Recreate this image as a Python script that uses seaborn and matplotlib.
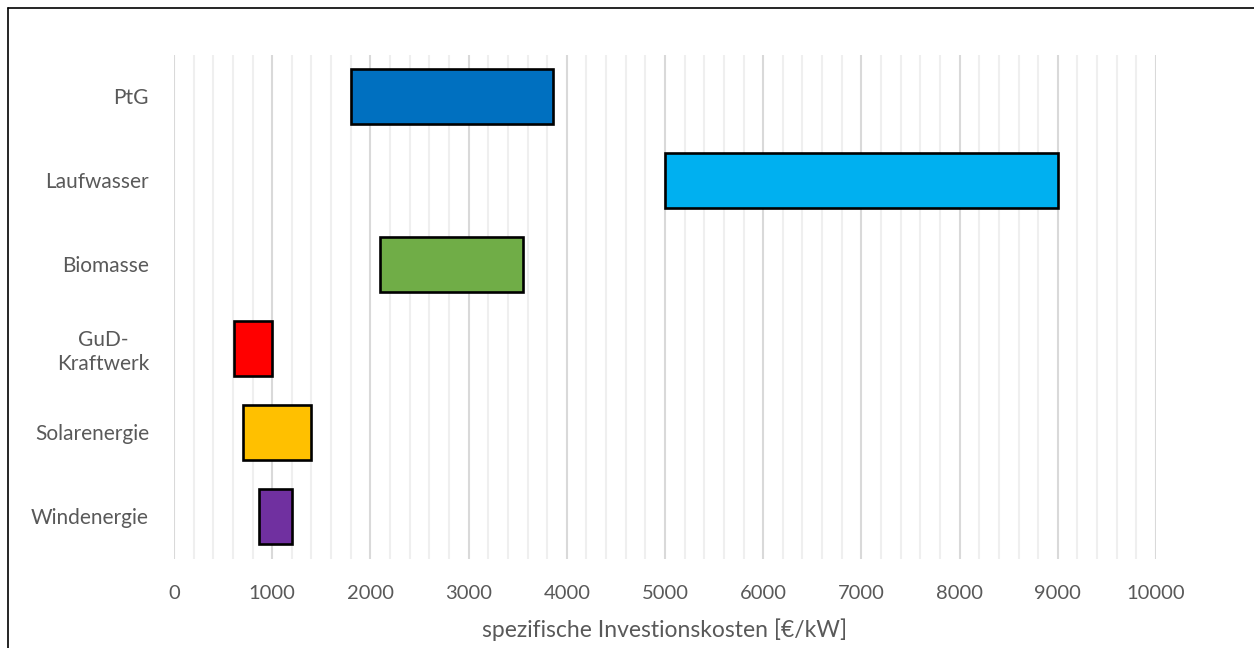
import matplotlib
matplotlib.use("Agg")
import matplotlib.pyplot as plt
from matplotlib.ticker import MultipleLocator
from matplotlib.lines import Line2D
import pandas as pd
import seaborn as sns

# data
categories = ["PtG", "Laufwasser", "Biomasse", "GuD-\nKraftwerk", "Solarenergie", "Windenergie"]
cost_min = [1800, 5000, 2100, 610, 700, 870]
cost_max = [3860, 9000, 3550, 1000, 1400, 1200]
colors = ["#0070C0", "#00B0F0", "#70AD47", "#FF0000", "#FFC000", "#7030A0"]
x_ticks = list(range(0, 10001, 1000))

df = pd.DataFrame({"Technologie": categories, "min": cost_min, "max": cost_max})
df["span"] = df["max"] - df["min"]

sns.set_style("white")
plt.rcParams["font.family"] = ["Lato", "DejaVu Sans"]
text_color = "#595959"

fig = plt.figure(figsize=(12.54, 6.48), dpi=100)
ax = fig.add_axes([174 / 1254, 1 - 558.5 / 648, (1156 - 174) / 1254, (558.5 - 54.5) / 648])

sns.barplot(data=df, x="max", y="Technologie", hue="Technologie", palette=colors,
            saturation=1, orient="h", width=0.65, edgecolor="black", linewidth=1.9,
            legend=False, ax=ax, zorder=3)

# floating bars: move each bar to start at its minimum
for patch, lo, hi in zip(ax.patches, cost_min, cost_max):
    patch.set_x(lo)
    patch.set_width(hi - lo)

ax.set_xlim(0, 10000)
ax.set_ylim(len(categories) - 0.5, -0.5)
ax.set_xticks(x_ticks)
ax.xaxis.set_minor_locator(MultipleLocator(200))
ax.grid(axis="x", which="major", color="#d9d9d9", linewidth=1.5, zorder=0)
ax.grid(axis="x", which="minor", color="#efefef", linewidth=1.5, zorder=0)
ax.grid(axis="y", visible=False)
ax.set_axisbelow(True)
for s in ax.spines.values():
    s.set_visible(False)

ax.tick_params(axis="x", which="both", length=0, pad=19, labelsize=14.5, labelcolor=text_color)
ax.tick_params(axis="y", length=0, pad=18, labelsize=15, labelcolor=text_color)
for lab in ax.get_yticklabels():
    lab.set_multialignment("center")

ax.set_ylabel("")
ax.set_xlabel("spezifische Investionskosten [€/kW]", fontsize=16.5, color=text_color, labelpad=12)

# outer frame (top and left edges visible)
fig.add_artist(Line2D([8 / 1254, 1], [1 - 7.5 / 648, 1 - 7.5 / 648], color="black", linewidth=1.2,
                      transform=fig.transFigure))
fig.add_artist(Line2D([8 / 1254, 8 / 1254], [0, 1 - 7.5 / 648], color="black", linewidth=1.2,
                      transform=fig.transFigure))

fig.savefig("out.png", dpi=100)
